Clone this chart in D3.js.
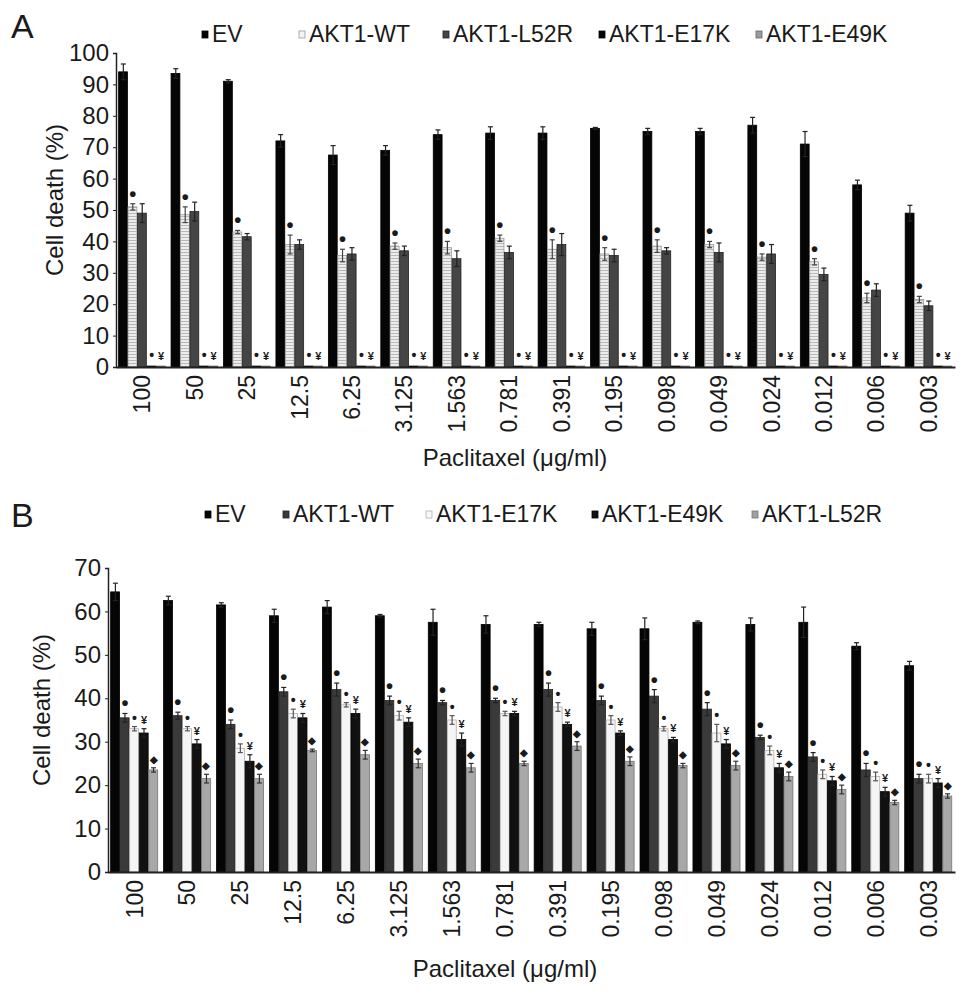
<!DOCTYPE html>
<html>
<head>
<meta charset="utf-8">
<script src="https://cdn.jsdelivr.net/npm/d3@7"></script>
<style>
  body { margin: 0; background: #fff; }
  svg text { font-family: "Liberation Sans", Arial, sans-serif; fill: #1a1a1a; }
</style>
</head>
<body>
<svg id="chart" width="969" height="994"></svg>
<script>
// Paclitaxel doses (x categories), shared by both panels.
var doses = ['100', '50', '25', '12.5', '6.25', '3.125', '1.563', '0.781',
  '0.391', '0.195', '0.098', '0.049', '0.024', '0.012', '0.006', '0.003'];

// Panel A.
var seriesA = ['EV', 'AKT1-WT', 'AKT1-L52R', 'AKT1-E17K', 'AKT1-E49K'];
var ticksA = [0, 10, 20, 30, 40, 50, 60, 70, 80, 90, 100];
var evA = [94, 93.5, 91, 72, 67.5, 69, 74, 74.5, 74.5, 76, 75, 75, 77, 71, 58, 49];
var evErrA = [2.5, 1.5, 0.5, 2, 3, 1.5, 1.5, 2, 2, 0.3, 1, 1, 2.5, 4, 1.5, 2.5];
var wtA = [51, 48.5, 43, 39, 35.5, 38.5, 38, 41, 37.5, 36, 38.5, 39, 35, 33.5, 22, 21.5];
var wtErrA = [1, 2.5, 0.5, 3, 2, 1, 2, 1, 3, 2, 2, 1, 1, 1, 1.5, 1];
var l52rA = [49, 49.5, 41.5, 39, 36, 37, 34.5, 36.5, 39, 35.5, 37, 36.5, 36, 29.5, 24.5, 19.5];
var l52rErrA = [3, 3, 1, 1.5, 2, 1.5, 2.5, 2, 3.5, 2, 1, 3, 3, 2, 2, 1.5];
var e17kA = [0.3, 0.3, 0.3, 0.3, 0.3, 0.3, 0.3, 0.3, 0.3, 0.3, 0.3, 0.3, 0.3, 0.3, 0.3, 0.3];
var e49kA = [0.3, 0.3, 0.3, 0.3, 0.3, 0.3, 0.3, 0.3, 0.3, 0.3, 0.3, 0.3, 0.3, 0.3, 0.3, 0.3];
var marksA = ['', '•', '', '•', '¥'];

// Panel B.
var seriesB = ['EV', 'AKT1-WT', 'AKT1-E17K', 'AKT1-E49K', 'AKT1-L52R'];
var ticksB = [0, 10, 20, 30, 40, 50, 60, 70];
var evB = [64.5, 62.5, 61.5, 59, 61, 59, 57.5, 57, 57, 56, 56, 57.5, 57, 57.5, 52, 47.5];
var evErrB = [2, 1, 0.5, 1.5, 1.5, 0.3, 3, 2, 0.5, 1.5, 2.5, 0.3, 1.5, 3.5, 0.8, 1];
var wtB = [35.5, 36, 34, 41.5, 42, 39.5, 39, 39.5, 42, 39.5, 40.5, 37.5, 31, 26.5, 23.5, 21.5];
var wtErrB = [1, 0.8, 1, 1, 1.5, 1, 0.5, 0.5, 1.5, 1, 1.5, 1.5, 0.5, 1, 1.5, 1];
var e17kB = [33, 33, 28.5, 36.5, 38.5, 36, 35, 36.5, 38, 35, 33, 32, 28, 22.5, 22, 21.5];
var e17kErrB = [0.5, 0.5, 1, 1, 0.5, 1, 1, 0.5, 1, 1, 0.5, 2, 1, 1, 1, 1];
var e49kB = [32, 29.5, 25.5, 35.5, 36.5, 34.5, 30.5, 36.5, 34, 32, 30.5, 29.5, 24, 21, 18.5, 20.5];
var e49kErrB = [1, 1, 1.5, 1, 1, 1, 1.5, 0.5, 0.5, 0.5, 0.5, 1, 1, 1, 1, 1];
var l52rB = [23.5, 21.5, 21.5, 28, 27, 25, 24, 25, 29, 25.5, 24.5, 24.5, 22, 19, 16, 17.5];
var l52rErrB = [0.5, 1, 1, 0.3, 1, 1, 1, 0.5, 1, 1, 0.5, 1, 1, 1, 0.5, 0.5];
var marksB = ['', '•', '•', '¥', '◆'];

var zeros = doses.map(function() { return 0; });
var svg = d3.select('#chart');

// Striped fill used by AKT1-WT in panel A.
var pat = svg.append('defs').append('pattern')
    .attr('id', 'stripes').attr('patternUnits', 'userSpaceOnUse')
    .attr('width', 6).attr('height', 3);
pat.append('rect').attr('width', 6).attr('height', 3).attr('fill', '#ececec');
pat.append('rect').attr('width', 6).attr('height', 1).attr('fill', '#b8b8b8');

/**
 * Draws one grouped bar panel.
 * @param {Object} p Panel settings.
 */
function drawPanel(p) {
  var g = svg.append('g');

  var x0 = d3.scaleBand().domain(doses).range([p.left, p.right])
      .paddingInner(0.1).paddingOuter(0.05);
  var x1 = d3.scaleBand().domain(p.series).range([0, x0.bandwidth()]);
  var y = d3.scaleLinear().domain([0, p.max]).range([p.bottom, p.top]);

  // Panel letter.
  g.append('text').attr('x', 11).attr('y', p.letterY)
      .attr('font-size', 34).text(p.letter);

  // Legend.
  p.series.forEach(function(s, i) {
    var lx = p.legendX[i];
    g.append('rect').attr('x', lx).attr('y', p.legendY - 11)
        .attr('width', 6).attr('height', 7)
        .attr('fill', p.legendFill[i]).attr('stroke', p.stroke[i])
        .attr('stroke-width', 0.8);
    g.append('text').attr('x', lx + 10).attr('y', p.legendY)
        .attr('font-size', 23).text(s);
  });

  // Bars, error bars and markers.
  p.series.forEach(function(s, si) {
    var vals = p.values[si], errs = p.errors[si];
    var bw = x1.bandwidth();
    var grp = g.append('g');
    doses.forEach(function(d, di) {
      var bx = x0(d) + x1(s);
      var v = vals[di], e = errs[di];
      grp.append('rect').attr('x', bx).attr('y', y(v))
          .attr('width', bw - 0.6).attr('height', p.bottom - y(v))
          .attr('fill', p.fill[si]).attr('stroke', p.stroke[si])
          .attr('stroke-width', 0.8);
      var cx = bx + bw / 2;
      if (e > 0) {
        grp.append('line').attr('x1', cx).attr('x2', cx)
            .attr('y1', y(v - e)).attr('y2', y(v + e))
            .attr('stroke', p.errColor[si]).attr('stroke-width', 1.2);
        [v - e, v + e].forEach(function(t) {
          grp.append('line').attr('x1', cx - 2.5).attr('x2', cx + 2.5)
              .attr('y1', y(t)).attr('y2', y(t))
              .attr('stroke', p.errColor[si]).attr('stroke-width', 1.2);
        });
      }
      if (p.marks[si]) {
        grp.append('text').attr('x', cx).attr('y', y(v + e) - p.markGap[si])
            .attr('text-anchor', 'middle')
            .attr('font-size', p.markSize[si]).attr('font-weight', 'bold')
            .text(p.marks[si]);
      }
    });
  });

  // Y axis.
  var yAxis = g.append('g').attr('transform', 'translate(' + p.left + ',0)')
      .call(d3.axisLeft(y).tickValues(p.ticks).tickSize(3).tickPadding(4));
  yAxis.select('.domain').attr('stroke', '#222').attr('stroke-width', 1.5);
  yAxis.selectAll('.tick line').attr('stroke', '#222');
  yAxis.selectAll('.tick text').attr('font-size', 24)
      .attr('font-family', '"Liberation Sans", Arial, sans-serif').attr('fill', '#1a1a1a');

  // X axis.
  var xAxis = g.append('g').attr('transform', 'translate(0,' + p.bottom + ')')
      .call(d3.axisBottom(x0).tickSize(0).tickPadding(8));
  xAxis.select('.domain').attr('stroke', '#222').attr('stroke-width', 2);
  xAxis.selectAll('.tick text').attr('font-size', 23)
      .attr('font-family', '"Liberation Sans", Arial, sans-serif').attr('fill', '#1a1a1a')
      .attr('text-anchor', 'end').attr('dy', '0.35em')
      .attr('transform', 'rotate(-90)')
      .attr('x', -8).attr('y', 0);

  // Axis titles.
  g.append('text')
      .attr('transform', 'translate(' + p.yTitleX + ',' + ((p.top + p.bottom) / 2 - 10) + ') rotate(-90)')
      .attr('text-anchor', 'middle').attr('font-size', 24).text('Cell death (%)');
  g.append('text').attr('x', p.xTitleX).attr('y', p.xTitleY)
      .attr('text-anchor', 'middle').attr('font-size', 24).text('Paclitaxel (μg/ml)');
}

drawPanel({
  letter: 'A', letterY: 38,
  series: seriesA,
  values: [evA, wtA, l52rA, e17kA, e49kA],
  errors: [evErrA, wtErrA, l52rErrA, zeros, zeros],
  marks: marksA,
  markSize: [0, 20, 0, 14, 11],
  markGap: [0, 3, 0, 6, 6],
  fill: ['#050505', 'url(#stripes)', '#454545', '#050505', '#8a8a8a'],
  legendFill: ['#050505', '#f4f4f4', '#454545', '#050505', '#9a9a9a'],
  stroke: ['#000', '#9a9a9a', '#222', '#000', '#666'],
  errColor: ['#222', '#444', '#222', '#222', '#222'],
  legendX: [202, 299, 443, 599, 756], legendY: 42,
  ticks: ticksA, max: 100,
  left: 116, right: 955, top: 53, bottom: 367,
  yTitleX: 63, xTitleX: 515, xTitleY: 466
});

drawPanel({
  letter: 'B', letterY: 527,
  series: seriesB,
  values: [evB, wtB, e17kB, e49kB, l52rB],
  errors: [evErrB, wtErrB, e17kErrB, e49kErrB, l52rErrB],
  marks: marksB,
  markSize: [0, 20, 14, 11, 10],
  markGap: [0, 3, 4, 5, 5],
  fill: ['#050505', '#3a3a3a', '#f5f5f5', '#111111', '#a8a8a8'],
  legendFill: ['#050505', '#3a3a3a', '#f8f8f8', '#111111', '#a0a0a0'],
  stroke: ['#000', '#222', '#b0b0b0', '#000', '#777'],
  errColor: ['#222', '#222', '#555', '#222', '#333'],
  legendX: [205, 283, 426, 592, 752], legendY: 522,
  ticks: ticksB, max: 70,
  left: 108, right: 955, top: 568, bottom: 872,
  yTitleX: 50, xTitleX: 505, xTitleY: 977
});
</script>
</body>
</html>
